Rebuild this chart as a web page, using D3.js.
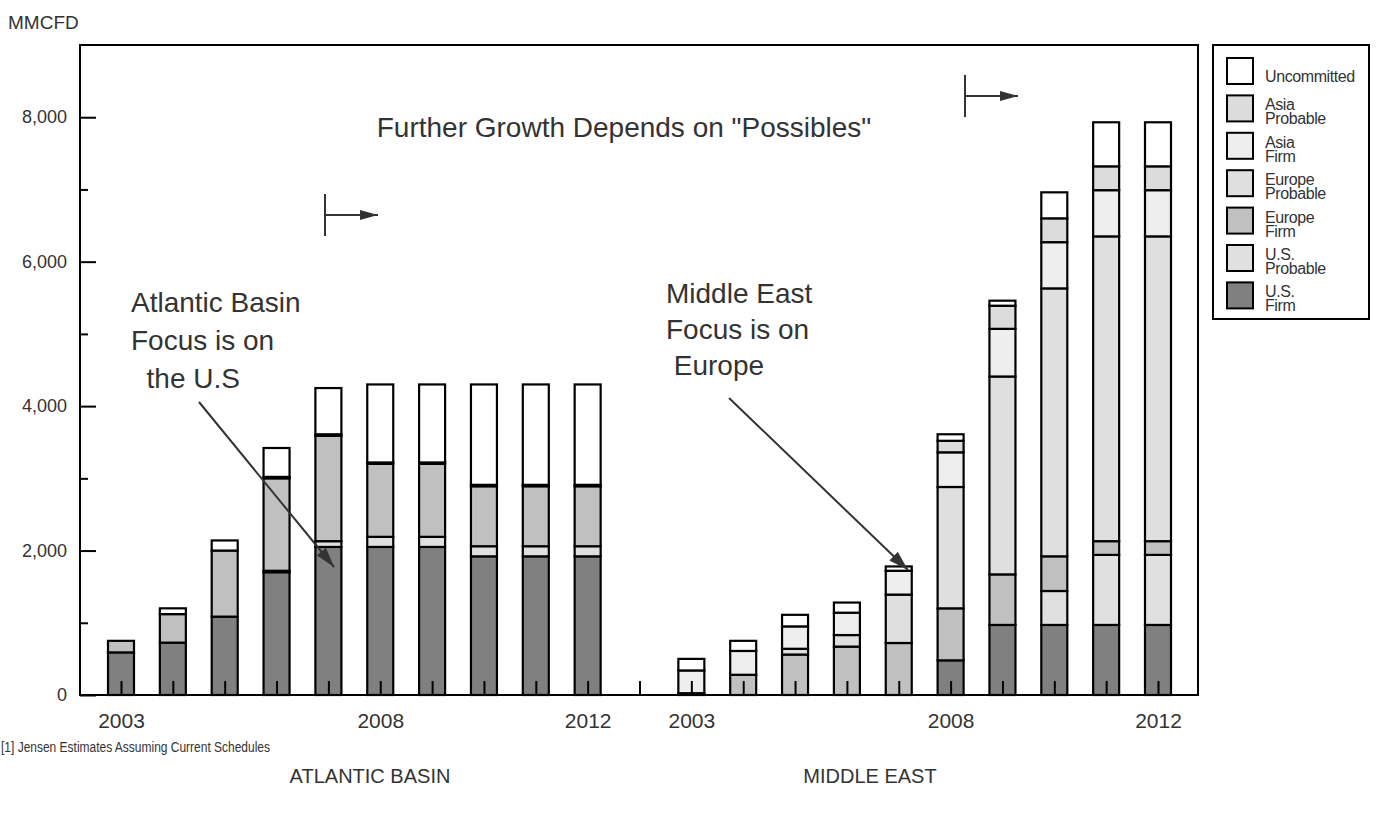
<!DOCTYPE html>
<html>
<head>
<meta charset="utf-8">
<script src="https://cdn.jsdelivr.net/npm/d3@7"></script>
<style>
  body { margin: 0; background: #fff; }
  text { font-family: "Liberation Sans", Arial, Helvetica, sans-serif; fill: #333; }
</style>
</head>
<body>
<svg id="chart" width="1376" height="813"></svg>
<script>
// ---- data (MMCFD) ----
const years = ["2003","2004","2005","2006","2007","2008","2009","2010","2011","2012"];
const labelledYears = ["2003","2008","2012"];
const yMajorTicks = [0, 2000, 4000, 6000, 8000];
const yMinorTicks = [1000, 3000, 5000, 7000];

const seriesKeys   = ["usFirm","usProbable","europeFirm","europeProbable","asiaFirm","asiaProbable","uncommitted"];
const seriesNames  = [["U.S.","Firm"],["U.S.","Probable"],["Europe","Firm"],["Europe","Probable"],["Asia","Firm"],["Asia","Probable"],["Uncommitted"]];
const seriesColors = ["#808080","#e0e0e0","#c0c0c0","#dfdfdf","#eeeeee","#dcdcdc","#ffffff"];

// Atlantic Basin
const atlanticUsFirm         = [590, 725, 1085, 1700, 2050, 2050, 2050, 1920, 1920, 1920];
const atlanticUsProbable     = [0, 0, 0, 20, 80, 140, 140, 140, 140, 140];
const atlanticEuropeFirm     = [160, 395, 915, 1280, 1460, 1010, 1010, 830, 830, 830];
const atlanticEuropeProbable = [0, 0, 0, 20, 20, 20, 20, 20, 20, 20];
const atlanticAsiaFirm       = [0, 0, 0, 0, 0, 0, 0, 0, 0, 0];
const atlanticAsiaProbable   = [0, 0, 0, 0, 0, 0, 0, 0, 0, 0];
const atlanticUncommitted    = [0, 80, 140, 400, 640, 1080, 1080, 1390, 1390, 1390];

// Middle East
const meUsFirm         = [25, 0, 0, 0, 0, 480, 970, 970, 970, 970];
const meUsProbable     = [0, 0, 0, 0, 0, 0, 0, 470, 970, 970];
const meEuropeFirm     = [0, 280, 560, 670, 720, 720, 700, 480, 190, 190];
const meEuropeProbable = [0, 0, 80, 160, 670, 1680, 2740, 3710, 4220, 4220];
const meAsiaFirm       = [315, 330, 310, 310, 330, 480, 660, 640, 640, 640];
const meAsiaProbable   = [0, 0, 0, 0, 0, 160, 320, 330, 330, 330];
const meUncommitted    = [160, 140, 160, 140, 60, 90, 70, 360, 610, 610];

// ---- table for the stack: Atlantic years, an empty separator slot, Middle East years ----
const atlanticSeries = [atlanticUsFirm, atlanticUsProbable, atlanticEuropeFirm, atlanticEuropeProbable, atlanticAsiaFirm, atlanticAsiaProbable, atlanticUncommitted];
const meSeries = [meUsFirm, meUsProbable, meEuropeFirm, meEuropeProbable, meAsiaFirm, meAsiaProbable, meUncommitted];

const rows = [];
years.forEach((yr, i) => {
  const r = { slot: "AB " + yr, year: yr };
  seriesKeys.forEach((k, j) => r[k] = atlanticSeries[j][i]);
  rows.push(r);
});
const sep = { slot: "sep", year: "" };
seriesKeys.forEach(k => sep[k] = 0);
rows.push(sep);
years.forEach((yr, i) => {
  const r = { slot: "ME " + yr, year: yr };
  seriesKeys.forEach((k, j) => r[k] = meSeries[j][i]);
  rows.push(r);
});

// ---- layout ----
const svg = d3.select("#chart");
const frame = { left: 80, right: 1198, top: 45, bottom: 695 };
const barW = 26;

const x = d3.scalePoint().domain(rows.map(d => d.slot)).range([121, 1158]);
const y = d3.scaleLinear().domain([0, 9000]).range([frame.bottom, frame.top]);
const color = d3.scaleOrdinal().domain(seriesKeys).range(seriesColors);

svg.append("rect").attr("width", 1376).attr("height", 813).attr("fill", "#fff");

// ---- stacked bars ----
const stacked = d3.stack().keys(seriesKeys)(rows);
const barG = svg.append("g");
stacked.forEach(layer => {
  barG.selectAll(null)
    .data(layer.filter(d => d[1] - d[0] > 0))
    .join("rect")
    .attr("x", d => x(d.data.slot) - barW / 2)
    .attr("y", d => y(d[1]))
    .attr("width", barW)
    .attr("height", d => y(d[0]) - y(d[1]))
    .attr("fill", color(layer.key))
    .attr("stroke", "#000")
    .attr("stroke-width", 2.2);
});

// ---- plot frame ----
svg.append("rect")
  .attr("x", frame.left).attr("y", frame.top)
  .attr("width", frame.right - frame.left).attr("height", frame.bottom - frame.top)
  .attr("fill", "none").attr("stroke", "#000").attr("stroke-width", 2);

// ---- axes ----
const yAxisMajor = d3.axisLeft(y).tickValues(yMajorTicks).tickSize(-16).tickPadding(13).tickFormat(d3.format(","));
const yAxisMinor = d3.axisLeft(y).tickValues(yMinorTicks).tickSize(-8).tickFormat("");
const xAxis = d3.axisBottom(x).tickSize(-14).tickPadding(18)
  .tickFormat(s => { const r = rows.find(d => d.slot === s); return labelledYears.includes(r.year) ? r.year : ""; });

function styleAxis(g, size) {
  g.select(".domain").remove();
  g.selectAll(".tick line").attr("stroke", "#000").attr("stroke-width", 2);
  g.selectAll(".tick text").attr("font-size", size).attr("fill", "#333")
    .style("font-family", '"Liberation Sans", Arial, sans-serif');
}
svg.append("g").attr("transform", `translate(${frame.left},0)`).call(yAxisMajor).call(styleAxis, 18);
svg.append("g").attr("transform", `translate(${frame.left},0)`).call(yAxisMinor).call(styleAxis, 18);
svg.append("g").attr("transform", `translate(0,${frame.bottom})`).call(xAxis).call(styleAxis, 21);

// ---- texts ----
svg.append("text").attr("x", 8).attr("y", 29).attr("font-size", 19).text("MMCFD");

svg.append("text").attr("x", 624).attr("y", 137).attr("text-anchor", "middle")
  .attr("font-size", 28).text('Further Growth Depends on "Possibles"');

function multiLine(xp, yp, lines, size, step) {
  const t = svg.append("text").attr("font-size", size).attr("xml:space", "preserve");
  lines.forEach((s, i) => t.append("tspan").attr("x", xp).attr("y", yp + i * step).text(s));
}
multiLine(131, 312, ["Atlantic Basin", "Focus is on", "  the U.S"], 28, 38);
multiLine(666, 303, ["Middle East", "Focus is on", " Europe"], 28, 36);

svg.append("text").attr("x", 1).attr("y", 752).attr("font-size", 14)
  .attr("textLength", 269).attr("lengthAdjust", "spacingAndGlyphs")
  .text("[1] Jensen Estimates Assuming Current Schedules");

svg.append("text").attr("x", 370).attr("y", 783).attr("text-anchor", "middle").attr("font-size", 20).text("ATLANTIC BASIN");
svg.append("text").attr("x", 870).attr("y", 783).attr("text-anchor", "middle").attr("font-size", 20).text("MIDDLE EAST");

// ---- arrows ----
const defs = svg.append("defs");
defs.append("marker").attr("id", "head").attr("markerUnits", "userSpaceOnUse")
  .attr("markerWidth", 22).attr("markerHeight", 14).attr("viewBox", "0 -7 22 14")
  .attr("refX", 20).attr("refY", 0).attr("orient", "auto")
  .append("path").attr("d", "M0,-6L20,0L0,6Z").attr("fill", "#333");
defs.append("marker").attr("id", "headSmall").attr("markerUnits", "userSpaceOnUse")
  .attr("markerWidth", 20).attr("markerHeight", 12).attr("viewBox", "0 -6 20 12")
  .attr("refX", 18).attr("refY", 0).attr("orient", "auto")
  .append("path").attr("d", "M0,-5L18,0L0,5Z").attr("fill", "#333");

function arrow(x1, y1, x2, y2, m) {
  svg.append("line").attr("x1", x1).attr("y1", y1).attr("x2", x2).attr("y2", y2)
    .attr("stroke", "#333").attr("stroke-width", 2).attr("marker-end", `url(#${m})`);
}
arrow(199, 402, 334, 567, "head");
arrow(729, 398, 908, 570, "head");

function startMark(xp, yp) {
  svg.append("line").attr("x1", xp).attr("y1", yp - 21).attr("x2", xp).attr("y2", yp + 21)
    .attr("stroke", "#333").attr("stroke-width", 2);
  arrow(xp, yp, xp + 53, yp, "headSmall");
}
startMark(325, 215);
startMark(965, 96);

// ---- legend ----
const lg = svg.append("g");
lg.append("rect").attr("x", 1213).attr("y", 45).attr("width", 156).attr("height", 274)
  .attr("fill", "#fff").attr("stroke", "#000").attr("stroke-width", 2);
const legendOrder = seriesKeys.map((k, i) => ({ key: k, lines: seriesNames[i] })).reverse();
legendOrder.forEach((d, i) => {
  const top = 57 + i * 37.4;
  lg.append("rect").attr("x", 1227).attr("y", top + 1).attr("width", 26).attr("height", 26)
    .attr("fill", color(d.key)).attr("stroke", "#000").attr("stroke-width", 2);
  const t = lg.append("text").attr("font-size", 16).attr("letter-spacing", -0.4);
  if (d.lines.length === 1) {
    t.append("tspan").attr("x", 1265).attr("y", top + 25).text(d.lines[0]);
  } else {
    d.lines.forEach((s, j) => t.append("tspan").attr("x", 1265).attr("y", top + 16 + j * 14).text(s));
  }
});
</script>
</body>
</html>
